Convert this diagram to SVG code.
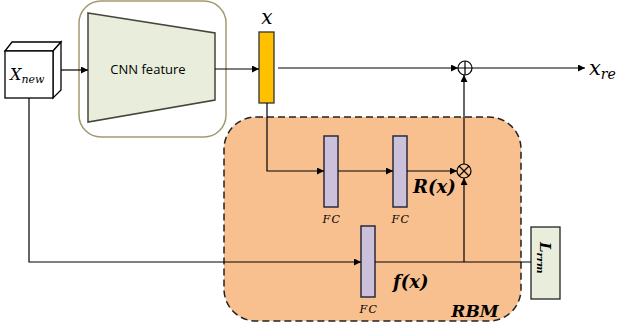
<svg xmlns="http://www.w3.org/2000/svg" width="626" height="327" viewBox="0 0 626 327">
<style>
.ln{fill:none;stroke:#000;stroke-width:1.2}
.fc{fill:#ccc1da;stroke:#2b2b3b;stroke-width:1.5}
.m{font-family:"DejaVu Serif","Liberation Serif",serif;font-style:italic}
.b{font-weight:bold}
</style>
<defs>
<marker id="ah" viewBox="0 0 10 10" refX="10" refY="5" markerWidth="7" markerHeight="7" markerUnits="userSpaceOnUse" orient="auto">
<path d="M0,0 L10,5 L0,10 z" fill="#000"/>
</marker>
</defs>
<rect width="626" height="327" fill="#fff"/>
<g id="rbm">
<rect x="224" y="117" width="297" height="204" rx="32" ry="32" fill="#f8bf8f" stroke="#222" stroke-width="1.5" stroke-dasharray="7,4"/>
<text class="m b" x="475" y="317" font-size="17" text-anchor="middle">RBM</text>
</g>
<g id="cnn">
<rect x="79" y="1" width="147" height="136" rx="22" ry="22" fill="#fff" stroke="#a09a70" stroke-width="1.5"/>
<polygon points="88,13 215,33 215,100 88,122" fill="#e8eedb" stroke="#45453a" stroke-width="1.5"/>
<text x="148" y="74" font-family="Open Sans, Liberation Sans, sans-serif" font-size="13" text-anchor="middle">CNN feature</text>
</g>
<g id="xnew">
<polygon points="5,51 12,42 61,42 53,51" fill="#fff" stroke="#000" stroke-width="1.3"/>
<polygon points="53,51 61,42 61,90 53,98" fill="#fff" stroke="#000" stroke-width="1.3"/>
<rect x="5" y="51" width="48" height="47" fill="#fff" stroke="#000" stroke-width="1.3"/>
<text class="m" x="10" y="80" font-size="16">X<tspan font-size="11" dy="3">new</tspan></text>
</g>
<g id="x">
<rect x="259" y="32" width="15" height="71" fill="#ffc000" stroke="#333" stroke-width="1.3"/>
<text class="m" x="267" y="24" font-size="20" text-anchor="middle">x</text>
</g>
<g id="fc1">
<rect class="fc" x="324" y="136" width="14" height="71"/>
<text class="m" x="332" y="223" font-size="11" text-anchor="middle" letter-spacing="1.5">FC</text>
</g>
<g id="fc2">
<rect class="fc" x="393" y="136" width="14" height="71"/>
<text class="m" x="401" y="223" font-size="11" text-anchor="middle" letter-spacing="1.5">FC</text>
</g>
<g id="fc3">
<rect class="fc" x="361" y="226" width="14" height="71"/>
<text class="m" x="369" y="313" font-size="11" text-anchor="middle" letter-spacing="1.5">FC</text>
</g>
<g id="oplus">
<circle cx="465" cy="68" r="7" fill="#fff" stroke="#000" stroke-width="1.2"/>
<path d="M458,68 H472 M465,61 V75" class="ln"/>
</g>
<g id="otimes">
<circle cx="464" cy="171" r="7" fill="#f8bf8f" stroke="#000" stroke-width="1.2"/>
<path d="M459,166 L469,176 M469,166 L459,176" class="ln"/>
</g>
<g id="lrrm">
<rect x="531" y="227" width="29" height="72" fill="#e8eedb" stroke="#222" stroke-width="1.3"/>
<text class="m b" transform="translate(540,242) rotate(90)" font-size="15">L<tspan font-size="10" dy="3">rrm</tspan></text>
</g>
<g id="labels">
<text class="m b" x="413" y="193" font-size="18">R(x)</text>
<text class="m b" x="393" y="288" font-size="18">f(x)</text>
<text class="m" x="589" y="75" font-size="21">x<tspan font-size="14" dy="4">re</tspan></text>
</g>
<g id="connectors">
<path class="ln" d="M61,70 H88" marker-end="url(#ah)"/>
<path class="ln" d="M215,69 H259" marker-end="url(#ah)"/>
<path class="ln" d="M278,68 H458" marker-end="url(#ah)"/>
<path class="ln" d="M472,68 H585" marker-end="url(#ah)"/>
<path class="ln" d="M267,103 V171 H324" marker-end="url(#ah)"/>
<path class="ln" d="M338,171 H393" marker-end="url(#ah)"/>
<path class="ln" d="M407,171 H457" marker-end="url(#ah)"/>
<path class="ln" d="M464,164 V75" marker-end="url(#ah)"/>
<path class="ln" d="M29,98 V262 H361" marker-end="url(#ah)"/>
<path class="ln" d="M375,262 H531"/>
<path class="ln" d="M464,262 V178" marker-end="url(#ah)"/>
</g>
</svg>
